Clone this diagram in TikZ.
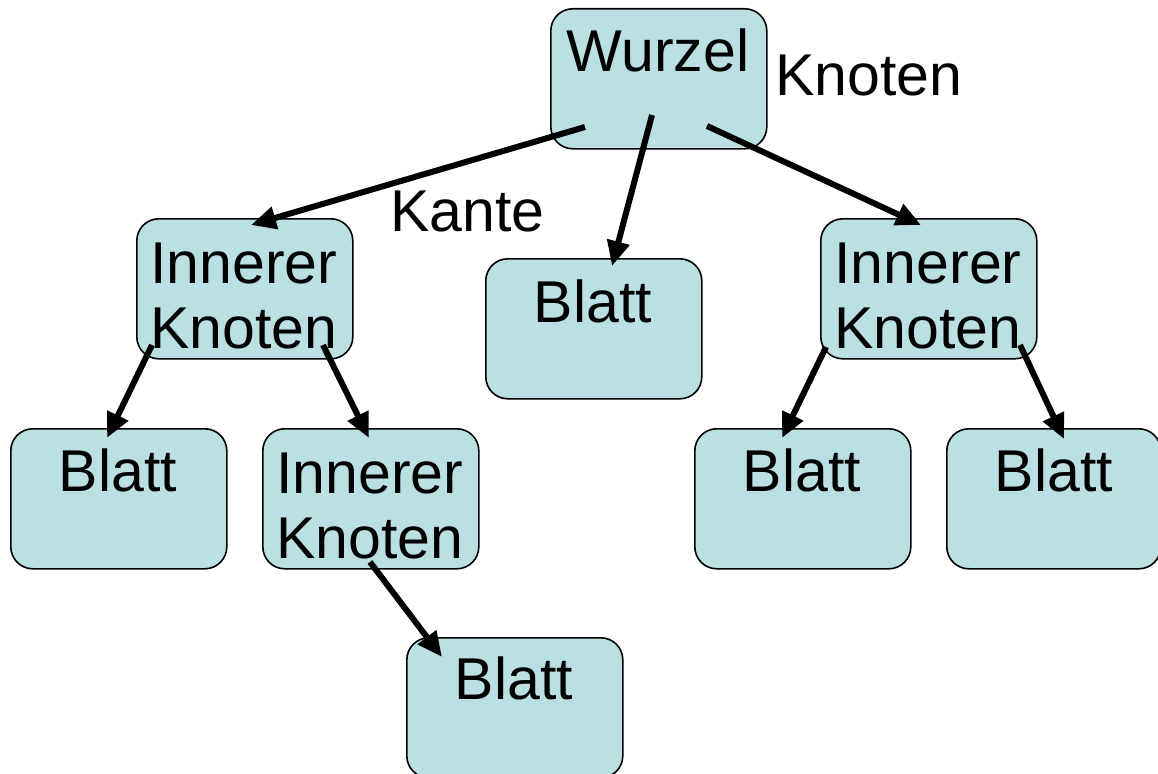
\documentclass[tikz,border=0pt]{standalone}
\usepackage{fontspec}
\setmainfont{Liberation Sans}
\usetikzlibrary{arrows.meta}
\definecolor{boxfill}{RGB}{186,224,227}
\tikzset{
  box/.style={draw=black, line width=1.6pt, fill=boxfill, rounded corners=22pt,
    minimum width=216pt, minimum height=140pt, inner sep=0pt, anchor=north west},
  txt/.style={font=\fontsize{59}{64}\selectfont, anchor=base, inner sep=0pt},
  lbl/.style={font=\fontsize{59}{64}\selectfont, anchor=base west, inner sep=0pt},
  arr/.style={line width=6pt, -{Triangle[length=25pt,width=22pt]}}
}
\begin{document}
\begin{tikzpicture}[x=1pt,y=-1pt]
\useasboundingbox (0,0) rectangle (1158,773);
% boxes
\node[box] (w) at (550,8) {};
\node[box] (ik1) at (136,218) {};
\node[box] (b1) at (485,258) {};
\node[box] (ik2) at (820,218) {};
\node[box] (bl) at (10,428) {};
\node[box] (ik3) at (262,428) {};
\node[box] (br1) at (694,428) {};
\node[box, minimum width=214pt] (br2) at (946,428) {};
\node[box] (bb) at (406,637) {};
% texts
\node[txt] (tw) at (658,72) {Wurzel};
\node[txt] (tik1a) at (244,283) {Innerer};
\node[txt] (tik1b) at (244,348) {Knoten};
\node[txt] (tb1) at (593,322) {Blatt};
\node[txt] (tik2a) at (928,283) {Innerer};
\node[txt] (tik2b) at (928,348) {Knoten};
\node[txt] (tbl) at (118,491) {Blatt};
\node[txt] (tik3a) at (370,493) {Innerer};
\node[txt] (tik3b) at (370,558) {Knoten};
\node[txt] (tbr1) at (802,491) {Blatt};
\node[txt] (tbr2) at (1054,491) {Blatt};
\node[txt] (tbb) at (514,699) {Blatt};
% labels
\node[lbl] (knoten) at (775,96) {Knoten};
\node[lbl] (kante) at (390,231) {Kante};
% connectors
\draw[arr] ([shift={(35,119)}]w.north west) -- ([shift={(115,7)}]ik1.north west);
\draw[arr] ([shift={(102,107)}]w.north west) -- ([shift={(127,8)}]b1.north west);
\draw[arr] ([shift={(157,118)}]w.north west) -- ([shift={(101,7)}]ik2.north west);
\draw[arr] ([shift={(16,127)}]ik1.north west) -- ([shift={(97,10)}]bl.north west);
\draw[arr] ([shift={(187,127)}]ik1.north west) -- ([shift={(107,10)}]ik3.north west);
\draw[arr] ([shift={(6,129)}]ik2.north west) -- ([shift={(88,10)}]br1.north west);
\draw[arr] ([shift={(200,127)}]ik2.north west) -- ([shift={(118,11)}]br2.north west);
\draw[arr] ([shift={(108,134)}]ik3.north west) -- ([shift={(36,20)}]bb.north west);
\end{tikzpicture}
\end{document}
